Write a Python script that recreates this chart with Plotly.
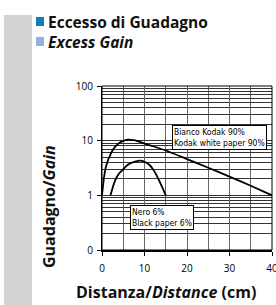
import plotly.graph_objects as go

# ---- data ----
white_x = [0, 0.5, 1, 2, 3, 4, 5, 6, 7, 8, 10, 12, 15, 20, 25, 30, 35, 40]
white_y = [1.0, 2.2, 3.5, 5.6, 7.6, 9.0, 9.9, 10.4, 10.3, 10.0, 8.8, 7.9, 6.6, 4.6, 3.2, 2.2, 1.5, 1.0]
black_x = [2, 3, 4, 5, 6, 7, 8, 9, 10, 11, 12, 13, 14, 15]
black_y = [1.0, 1.8, 2.5, 3.0, 3.6, 3.95, 4.2, 4.3, 4.1, 3.7, 3.0, 2.2, 1.5, 1.0]

x_tickvals = [0, 10, 20, 30, 40]
x_minor = [5, 15, 25, 35]
y_tickvals = [0.1, 1, 10, 100]
y_ticktext = ["0", "1", "10", "100"]
y_minor = [m * d for d in (0.1, 1, 10) for m in range(2, 10)]

label_white = "Bianco Kodak 90%<br>Kodak white paper 90%"
label_black = "Nero 6%<br>Black paper 6%"
title_it = "<b>Eccesso di Guadagno</b>"
title_en = "<b><i>Excess Gain</i></b>"
x_title = "<b>Distanza/<i>Distance</i> (cm)</b>"
y_title = "<b>Guadagno/<i>Gain</i></b>"

W, H = 276, 305
L, R, T, B = 102, 4, 86, 55
PW, PH = W - L - R, H - T - B


def px(x):
    return (x - L) / PW


def py(y):
    return (H - B - y) / PH


fig = go.Figure()
fig.add_trace(go.Scatter(x=white_x, y=white_y, mode="lines",
                         line=dict(color="black", width=1.8, shape="spline", smoothing=0.6),
                         hoverinfo="skip", showlegend=False))
fig.add_trace(go.Scatter(x=black_x, y=black_y, mode="lines",
                         line=dict(color="black", width=1.8, shape="spline", smoothing=0.6),
                         hoverinfo="skip", showlegend=False))

tickfont = dict(family="Open Sans", size=10, color="black")
titlefont = dict(family="Open Sans", size=15.5, color="#111")
axtitlefont = dict(family="Open Sans", size=16, color="#111")

fig.update_layout(
    width=W, height=H,
    margin=dict(l=L, r=R, t=T, b=B),
    paper_bgcolor="white", plot_bgcolor="white",
    showlegend=False,
    xaxis=dict(range=[0, 40], tickvals=x_tickvals, ticks="outside", ticklen=4,
               tickcolor="black", tickfont=tickfont, showgrid=True, gridcolor="#666",
               gridwidth=1, zeroline=False, showline=True, linecolor="black", linewidth=2,
               ticklabelstandoff=4, ticklabeloverflow="allow", automargin=False,
               minor=dict(tickvals=x_minor, showgrid=True, gridcolor="#666", gridwidth=1,
                          ticks="")),
    yaxis=dict(type="log", range=[-1, 2], tickvals=y_tickvals, ticktext=y_ticktext,
               ticks="outside", ticklen=4, tickcolor="black", tickfont=tickfont,
               showgrid=True, gridcolor="#333", gridwidth=1, zeroline=False,
               showline=True, linecolor="black", linewidth=1, ticklabelstandoff=2,
               automargin=False,
               minor=dict(tickvals=y_minor, showgrid=True, gridcolor="#333", gridwidth=1,
                          ticks="")),
)

# right / top border
fig.add_shape(type="rect", xref="paper", yref="paper", x0=0, x1=1, y0=0, y1=1,
              line=dict(color="black", width=1), layer="above")

# gray side bar
fig.add_shape(type="rect", xref="paper", yref="paper", x0=px(4), x1=px(32),
              y0=py(305), y1=py(15), fillcolor="#d1d3d4", line=dict(width=0), layer="below")
# colored squares
fig.add_shape(type="rect", xref="paper", yref="paper", x0=px(36), x1=px(44),
              y0=py(26), y1=py(17), fillcolor="#137ac2", line=dict(width=0))
fig.add_shape(type="rect", xref="paper", yref="paper", x0=px(36), x1=px(44),
              y0=py(46), y1=py(37), fillcolor="#8fb3de", line=dict(width=0))

ann = [
    dict(text=title_it, x=px(46), y=py(21.5), xanchor="left", yanchor="middle", font=titlefont),
    dict(text=title_en, x=px(46), y=py(41.5), xanchor="left", yanchor="middle", font=titlefont),
    dict(text=x_title, x=px(166), y=py(292), xanchor="center", yanchor="middle", font=axtitlefont),
    dict(text=y_title, x=px(49), y=py(207), xanchor="center", yanchor="middle", font=axtitlefont,
         textangle=-90),
    dict(text=label_white, x=px(172), y=py(125), xanchor="left", yanchor="top",
         align="left", font=dict(family="DejaVu Sans Condensed", size=8.5, color="black"),
         bgcolor="white", bordercolor="black", borderwidth=1, borderpad=1),
    dict(text=label_black, x=px(130), y=py(205), xanchor="left", yanchor="top",
         align="left", font=dict(family="DejaVu Sans Condensed", size=8.5, color="black"),
         bgcolor="white", bordercolor="black", borderwidth=1, borderpad=1),
]
for a in ann:
    a.update(xref="paper", yref="paper", showarrow=False)
    fig.add_annotation(**a)

fig.write_html("out.html", config={"displayModeBar": False},
               post_script="document.body.style.margin='0';document.body.style.overflow='hidden';")
